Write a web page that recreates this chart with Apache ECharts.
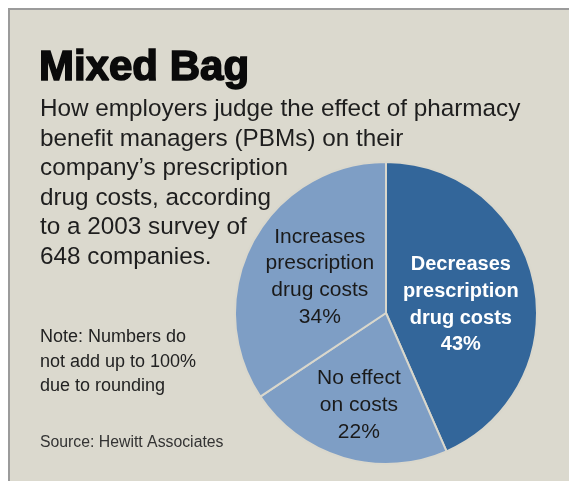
<!DOCTYPE html>
<html><head><meta charset="utf-8">
<script src="https://cdn.jsdelivr.net/npm/echarts@6/dist/echarts.min.js"></script>
<style>html,body{margin:0;padding:0;background:#fff}#c{width:569px;height:481px}</style>
</head><body><div id="c"></div>
<script>
const categories = ['Decreases\nprescription\ndrug costs', 'No effect\non costs', 'Increases\nprescription\ndrug costs'];
const values = [43, 22, 34];
const titleText = 'Mixed Bag';
const subtitleLines = ['How employers judge the effect of pharmacy', 'benefit managers (PBMs) on their', 'company\u2019s prescription', 'drug costs, according', 'to a 2003 survey of', '648 companies.'];
const noteLines = ['Note: Numbers do', 'not add up to 100%', 'due to rounding'];
const sourceText = 'Source: Hewitt Associates';

const FONT = '"Liberation Sans", Arial, sans-serif';
const chart = echarts.init(document.getElementById('c'), null, {renderer: 'canvas'});
const colors = ['#33669a', '#7e9ec5', '#7e9ec5'];
const labelStyles = [
  {color: '#ffffff', fontWeight: 'bold', fontSize: 20},
  {color: '#1a1a1a', fontWeight: 'normal', fontSize: 21},
  {color: '#1a1a1a', fontWeight: 'normal', fontSize: 21}
];
const labelShift = [[-2, 8], [-5, 17], [3, 1]];
chart.setOption({
  backgroundColor: '#ffffff',
  animation: false,
  graphic: [
    {type: 'rect', shape: {x: 8, y: 8, width: 561, height: 473}, style: {fill: '#dbd9ce'}, z: -10},
    {type: 'line', shape: {x1: 8, y1: 9, x2: 569, y2: 9}, style: {stroke: '#9b9b9b', lineWidth: 2}, z: -9},
    {type: 'line', shape: {x1: 9, y1: 8, x2: 9, y2: 481}, style: {stroke: '#9b9b9b', lineWidth: 2}, z: -9}
  ],
  title: [
    {text: titleText, left: 34, top: 42, textStyle: {fontFamily: FONT, fontWeight: 'bold', fontSize: 42, lineHeight: 42, color: '#0a0a0a', textBorderColor: '#0a0a0a', textBorderWidth: 1.6}},
    {text: subtitleLines.join('\n'), left: 35, top: 90, textStyle: {fontFamily: FONT, fontWeight: 'normal', fontSize: 24.3, lineHeight: 29.5, color: '#1e1e1e'}},
    {text: noteLines.join('\n'), left: 35, top: 320, textStyle: {fontFamily: FONT, fontWeight: 'normal', fontSize: 18, lineHeight: 24.5, color: '#222'}},
    {text: sourceText, left: 35, top: 428, textStyle: {fontFamily: FONT, fontWeight: 'normal', fontSize: 15.8, lineHeight: 20, color: '#333'}}
  ],
  series: [{
    type: 'pie',
    center: [386, 313],
    radius: 151,
    startAngle: 90,
    clockwise: true,
    silent: true,
    avoidLabelOverlap: false,
    labelLayout: p => ({hideOverlap: false, dx: labelShift[p.dataIndex][0], dy: labelShift[p.dataIndex][1]}),
    itemStyle: {borderColor: '#d9d7cc', borderWidth: 2},
    label: {show: true, position: 'inside', fontFamily: FONT, lineHeight: 26.7, align: 'center',
      formatter: p => p.name + '\n' + p.value + '%'},
    labelLine: {show: false},
    data: categories.map((n, i) => ({name: n, value: values[i], itemStyle: {color: colors[i]}, label: labelStyles[i]}))
  }]
});
</script></body></html>
